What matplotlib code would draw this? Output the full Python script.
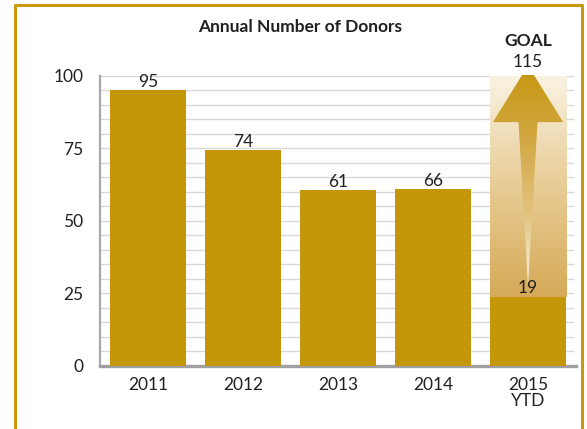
import numpy as np
import matplotlib
matplotlib.use("Agg")
import matplotlib.pyplot as plt
from matplotlib.patches import Polygon
from matplotlib.colors import LinearSegmentedColormap
from matplotlib.lines import Line2D

plt.rcParams["font.family"] = ["Lato", "DejaVu Sans"]

# data
years = ["2011", "2012", "2013", "2014", "2015\nYTD"]
bar_heights = [95, 74.3, 60.5, 60.8, 23.8]
bar_labels = ["95", "74", "61", "66", "19"]
goal_label = "115"
y_ticks = [0, 25, 50, 75, 100]

GOLD = "#C4960A"
FRAME = "#C8990C"
TEXT = "#231F20"

fig = plt.figure(figsize=(5.87, 4.29), dpi=100)
ax = fig.add_axes([100 / 587, 1 - 366 / 429, 476 / 587, (366 - 75.7) / 429])

x = np.arange(len(years))
ax.bar(x, bar_heights, width=0.8, color=GOLD, zorder=3)

# gridlines every 5
for gy in range(5, 101, 5):
    ax.plot([-0.5, 4.47], [gy, gy], color="#D8D8D8", lw=1, zorder=1)

# goal gradient box above the YTD bar
last = len(years) - 1
grad = LinearSegmentedColormap.from_list("g", ["#D5AA57", "#E8CC95", "#FAF3E3"])
ax.imshow(np.linspace(0, 1, 256).reshape(-1, 1), cmap=grad, origin="lower",
          extent=(last - 0.4, last + 0.4, bar_heights[-1], 100),
          aspect="auto", zorder=2)

# arrow up to goal
tip, base, tail = 103.5, 84.0, 27.5
hw, sw = 0.37, 0.1
arrow = Polygon([(last, tip), (last + hw, base), (last + sw, base), (last, tail),
                 (last - sw, base), (last - hw, base)],
                closed=True, transform=ax.transData)
agrad = LinearSegmentedColormap.from_list("a", ["#FBF4E4", "#E2C27D", "#D2A843", "#C4960E"])
im = ax.imshow(np.linspace(0, 1, 256).reshape(-1, 1), cmap=agrad, origin="lower",
               extent=(last - hw, last + hw, tail, tip), aspect="auto", zorder=4)
im.set_clip_path(arrow)
im.set_clip_box(None)

for xi, h, lab in zip(x, bar_heights, bar_labels):
    ax.text(xi, h + 3, lab, ha="center", va="center", fontsize=12.5,
            color=TEXT, zorder=5)
ax.text(last, 104.7, goal_label, ha="center", va="center", fontsize=12.5,
        color=TEXT, zorder=5)
ax.text(last, 111.9, "GOAL", ha="center", va="center", fontsize=12.5,
        fontweight="bold", color=TEXT, zorder=5)

ax.set_xlim(-0.505, 4.505)
ax.set_ylim(0, 100)
ax.set_yticks(y_ticks)
ax.set_xticks(x)
ax.set_xticklabels(years, linespacing=1.0)
ax.tick_params(length=0, labelsize=12.5, labelcolor=TEXT)
ax.tick_params(axis="y", pad=12)
ax.tick_params(axis="x", pad=8)
for s in ["top", "right"]:
    ax.spines[s].set_visible(False)
ax.spines["left"].set_color("#A8A8AA")
ax.spines["left"].set_linewidth(1.6)
ax.spines["bottom"].set_color("#A0A0A2")
ax.spines["bottom"].set_linewidth(2.4)

fig.text(300 / 587, 1 - 27 / 429, "Annual Number of Donors", ha="center",
         va="center", fontsize=12.5, fontweight="bold", color=TEXT)

# gold frame (left, top, right)
W, H = 587, 429
fx = [15 / W, 15 / W, 582 / W, 582 / W]
fy = [0, 1 - 5 / H, 1 - 5 / H, 0]
fig.add_artist(Line2D(fx, fy, color=FRAME, lw=2.2, transform=fig.transFigure))

fig.savefig("out.png", dpi=100)
